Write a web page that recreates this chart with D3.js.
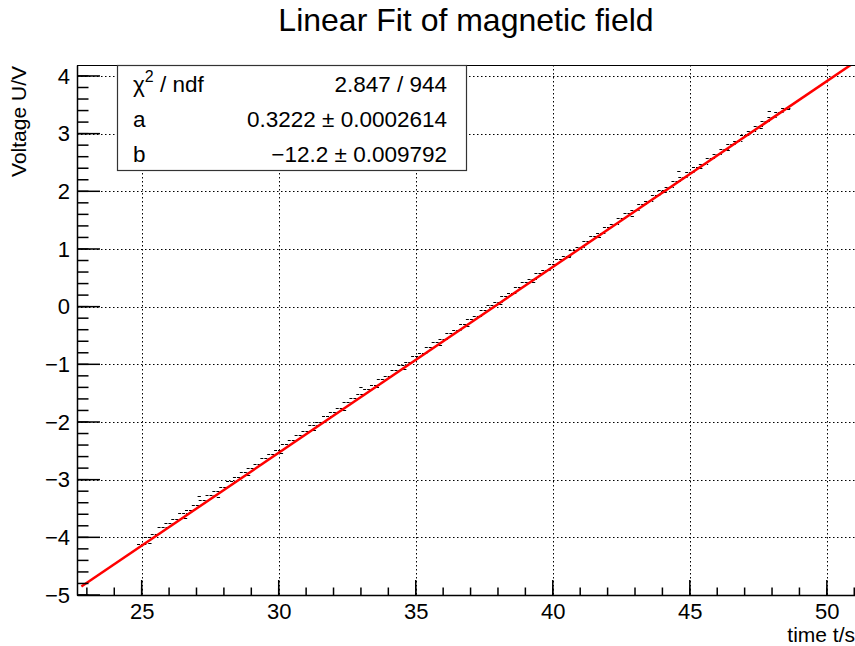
<!DOCTYPE html>
<html>
<head>
<meta charset="utf-8">
<script src="https://cdnjs.cloudflare.com/ajax/libs/d3/7.8.5/d3.min.js"></script>
<style>
  body { margin: 0; background: #fff; }
  svg { display: block; font-family: "Liberation Sans", Arial, sans-serif; }
</style>
</head>
<body>
<svg id="chart" width="855" height="646"></svg>
<script>
// measured points (time t/s, voltage U/V)
var times = [25.0, 25.25, 25.5, 25.75, 26.0, 26.25, 26.5, 26.75, 27.0, 27.25, 27.5, 27.75,
  28.0, 28.25, 28.5, 28.75, 29.0, 29.25, 29.5, 29.75, 30.0, 30.25, 30.5, 30.75,
  31.0, 31.25, 31.5, 31.75, 32.0, 32.25, 32.5, 32.75, 33.0, 33.25, 33.5, 33.75,
  34.0, 34.25, 34.5, 34.75, 35.0, 35.25, 35.5, 35.75, 36.0, 36.25, 36.5, 36.75,
  37.0, 37.25, 37.5, 37.75, 38.0, 38.25, 38.5, 38.75, 39.0, 39.25, 39.5, 39.75,
  40.0, 40.25, 40.5, 40.75, 41.0, 41.25, 41.5, 41.75, 42.0, 42.25, 42.5, 42.75,
  43.0, 43.25, 43.5, 43.75, 44.0, 44.25, 44.5, 44.75, 45.0, 45.25, 45.5, 45.75,
  46.0, 46.25, 46.5, 46.75, 47.0, 47.25, 47.5, 47.75, 48.0, 48.25, 48.5];
var volts = [-4.12, -4.00, -3.94, -3.82, -3.76, -3.68, -3.58, -3.52, -3.44, -3.36, -3.26, -3.20,
  -3.12, -3.02, -2.96, -2.86, -2.80, -2.72, -2.62, -2.56, -2.48, -2.38, -2.32, -2.22,
  -2.16, -2.06, -2.00, -1.90, -1.82, -1.76, -1.66, -1.58, -1.52, -1.42, -1.36, -1.26,
  -1.20, -1.10, -1.02, -0.96, -0.86, -0.80, -0.70, -0.62, -0.56, -0.46, -0.40, -0.30,
  -0.22, -0.16, -0.06, 0.02, 0.08, 0.18, 0.24, 0.34, 0.42, 0.48, 0.58, 0.64,
  0.74, 0.82, 0.88, 0.98, 1.04, 1.14, 1.22, 1.28, 1.38, 1.44, 1.54, 1.62,
  1.68, 1.78, 1.84, 1.94, 2.02, 2.08, 2.18, 2.24, 2.34, 2.42, 2.48, 2.58,
  2.64, 2.74, 2.82, 2.88, 2.98, 3.04, 3.14, 3.22, 3.28, 3.38, 3.44];

// isolated points off the main staircase
var strayTimes = [25.3, 26.6, 27.1, 27.8, 28.9, 30.1, 31.3, 32.4, 33.0, 33.6, 34.6, 35.9,
  36.9, 38.1, 39.3, 40.6, 41.7, 42.9, 44.1, 44.6, 45.4, 46.4, 47.6, 47.9, 48.6];
var strayVolts = [-4.10, -3.66, -3.28, -3.30, -2.92, -2.54, -2.14, -1.80, -1.40, -1.40, -1.08, -0.66,
  -0.34, 0.04, 0.42, 0.86, 1.20, 1.58, 1.98, 2.36, 2.40, 2.72, 3.10, 3.40, 3.42];

// fit result
var fitA = 0.3222, fitB = -12.2;
var fitRange = [22.8, 51.2];
var statLabels = ["\u03c7", "a", "b"];
var statValues = ["2.847 / 944", "0.3222 \u00b1 0.0002614", "\u221212.2 \u00b1 0.009792"];

var xTicks = [25, 30, 35, 40, 45, 50];
var yTicks = [-5, -4, -3, -2, -1, 0, 1, 2, 3, 4];

var svg = d3.select('#chart');
var fLeft = 77, fRight = 857, fTop = 65, fBottom = 595;

var x = d3.scaleLinear().domain([22.64, 51.1]).range([fLeft, fRight]);
var y = d3.scaleLinear().domain([-5, 4.19]).range([fBottom, fTop]);

function fmt(v) { return v < 0 ? '\u2212' + Math.abs(v) : String(v); }

svg.append('clipPath').attr('id', 'frame')
  .append('rect').attr('x', fLeft).attr('y', fTop)
  .attr('width', fRight - fLeft).attr('height', fBottom - fTop);

// grid
var grid = svg.append('g').attr('stroke', '#000').attr('stroke-width', 1)
  .attr('stroke-dasharray', '1.5,2.5');
grid.selectAll('.gx').data(xTicks).enter().append('line')
  .attr('x1', function(d) { return Math.round(x(d)) + 0.5; })
  .attr('x2', function(d) { return Math.round(x(d)) + 0.5; })
  .attr('y1', fTop).attr('y2', fBottom);
grid.selectAll('.gy').data(yTicks).enter().append('line')
  .attr('y1', function(d) { return Math.round(y(d)) + 0.5; })
  .attr('y2', function(d) { return Math.round(y(d)) + 0.5; })
  .attr('x1', fLeft).attr('x2', fRight);

// data points
var plot = svg.append('g').attr('clip-path', 'url(#frame)');
plot.selectAll('.pt').data(times).enter().append('line')
  .attr('x1', function(d) { return x(d - 0.17); })
  .attr('x2', function(d) { return x(d + 0.17); })
  .attr('y1', function(d, i) { return Math.round(y(volts[i])) + 0.5; })
  .attr('y2', function(d, i) { return Math.round(y(volts[i])) + 0.5; })
  .attr('stroke', '#000').attr('stroke-width', 1).attr('stroke-dasharray', '3,1');
plot.selectAll('.st').data(strayTimes).enter().append('line')
  .attr('x1', function(d) { return x(d - 0.06); })
  .attr('x2', function(d) { return x(d + 0.06); })
  .attr('y1', function(d, i) { return Math.round(y(strayVolts[i])) + 0.5; })
  .attr('y2', function(d, i) { return Math.round(y(strayVolts[i])) + 0.5; })
  .attr('stroke', '#000').attr('stroke-width', 1);

// fit line
plot.append('path')
  .datum(fitRange)
  .attr('d', d3.line()
    .x(function(d) { return x(d); })
    .y(function(d) { return y(fitA * d + fitB); }))
  .attr('fill', 'none').attr('stroke', '#ff0000').attr('stroke-width', 2.5);

// frame
svg.append('rect').attr('x', fLeft + 0.5).attr('y', fTop + 0.5)
  .attr('width', fRight - fLeft).attr('height', fBottom - fTop)
  .attr('fill', 'none').attr('stroke', '#000').attr('stroke-width', 1);

// x axis
var xAxis = d3.axisBottom(x).tickValues(xTicks).tickSize(0).tickFormat(fmt).tickPadding(8);
var gx = svg.append('g').attr('transform', 'translate(0,' + fBottom + ')').call(xAxis);
gx.select('.domain').attr('stroke-width', 1.5);
gx.selectAll('text').attr('font-size', 22).attr('fill', '#000')
  .attr('font-family', '"Liberation Sans", Arial, sans-serif');
gx.selectAll('.major').data(xTicks).enter().append('line')
  .attr('x1', function(d) { return x(d); }).attr('x2', function(d) { return x(d); })
  .attr('y1', 0).attr('y2', -15).attr('stroke', '#000').attr('stroke-width', 1.5);
gx.selectAll('.minor').data(d3.range(23, 52, 1)).enter().append('line')
  .attr('x1', function(d) { return x(d); }).attr('x2', function(d) { return x(d); })
  .attr('y1', 0).attr('y2', -7.5).attr('stroke', '#000').attr('stroke-width', 1.5);

// y axis
var yAxis = d3.axisLeft(y).tickValues(yTicks).tickSize(0).tickFormat(fmt).tickPadding(7);
var gy = svg.append('g').attr('transform', 'translate(' + fLeft + ',0)').call(yAxis);
gy.select('.domain').attr('stroke-width', 1.5);
gy.selectAll('text').attr('font-size', 22).attr('fill', '#000')
  .attr('font-family', '"Liberation Sans", Arial, sans-serif');
gy.selectAll('.major').data(yTicks).enter().append('line')
  .attr('y1', function(d) { return y(d); }).attr('y2', function(d) { return y(d); })
  .attr('x1', 0).attr('x2', 23).attr('stroke', '#000').attr('stroke-width', 1.5);
gy.selectAll('.minor').data(d3.range(-50, 42, 2)).enter().append('line')
  .attr('y1', function(d) { return y(d / 10); }).attr('y2', function(d) { return y(d / 10); })
  .attr('x1', 0).attr('x2', 11.5).attr('stroke', '#000').attr('stroke-width', 1.5);

// stats box
var box = svg.append('g');
box.append('rect').attr('x', 117.5).attr('y', fTop + 0.5).attr('width', 349).attr('height', 105)
  .attr('fill', '#fff').attr('stroke', '#333').attr('stroke-width', 1.2);
var rowY = [92, 127, 162];
statLabels.forEach(function(lab, i) {
  var t = box.append('text').attr('x', 133).attr('y', rowY[i]).attr('font-size', 22.5);
  if (i === 0) {
    t.append('tspan').text(lab);
    t.append('tspan').attr('dy', -10).attr('font-size', 16).text('2');
    t.append('tspan').attr('dy', 10).text(' / ndf');
  } else {
    t.text(lab);
  }
  box.append('text').attr('x', 447).attr('y', rowY[i]).attr('font-size', 22.5)
    .attr('text-anchor', 'end').text(statValues[i]);
});

// titles
svg.append('text').attr('x', 466).attr('y', 31).attr('text-anchor', 'middle')
  .attr('font-size', 32).text('Linear Fit of magnetic field');
svg.append('text').attr('x', 855).attr('y', 642).attr('text-anchor', 'end')
  .attr('font-size', 21).text('time t/s');
svg.append('text').attr('transform', 'translate(26,66) rotate(-90)')
  .attr('text-anchor', 'end').attr('font-size', 21).text('Voltage U/V');
</script>
</body>
</html>
